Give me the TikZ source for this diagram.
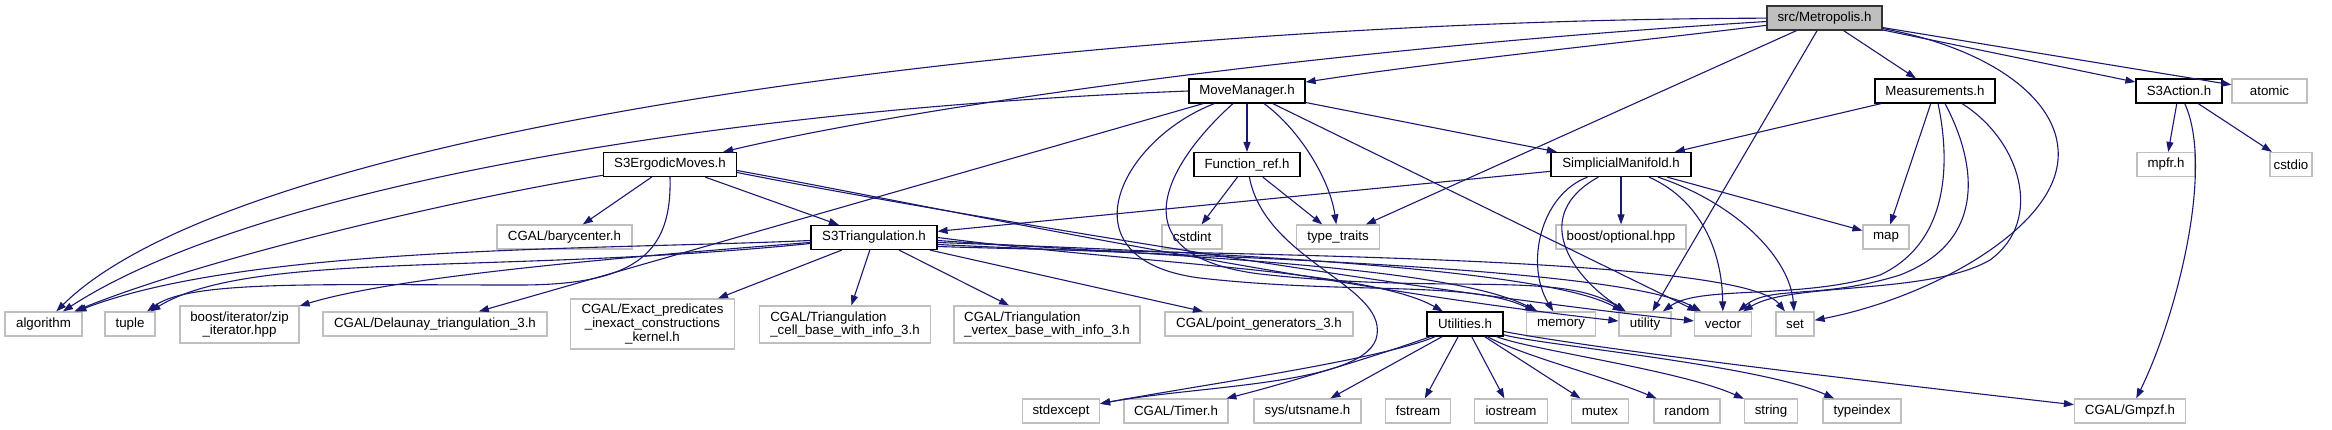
\documentclass[tikz,border=0pt]{standalone}
\usepackage{fontspec}
\setmainfont{Liberation Sans}
\usetikzlibrary{arrows.meta}
\definecolor{edgecol}{HTML}{191970}
\definecolor{extgray}{HTML}{BFBFBF}
\definecolor{mainfill}{HTML}{BFBFBF}
\newcommand{\gfont}{\fontsize{13.3}{13.6}\selectfont}
\tikzset{
  nbox/.style={rectangle, inner sep=0pt, minimum height=24pt, font=\gfont, line width=1.2pt, fill=white},
  intn/.style={nbox, draw=black},
  extn/.style={nbox, draw=extgray},
  mainn/.style={nbox, draw=black!80, fill=mainfill},
  dep/.style={draw=edgecol, line width=1.1pt, -{Triangle[length=10pt,width=7pt]}}
}
\begin{document}
\begin{tikzpicture}[x=1pt,y=-1pt]
\useasboundingbox[fill=white] (0,0) rectangle (2332,429);
% row 0
\node[mainn, minimum width=115pt] (M) at (1824.5,18) {src/Metropolis.h};
% row 1
\node[intn, minimum width=116pt] (MM) at (1247,91) {MoveManager.h};
\node[intn, minimum width=120pt] (Me) at (1935,91) {Measurements.h};
\node[intn, minimum width=86pt] (SA) at (2179,91) {S3Action.h};
\node[extn, minimum width=75pt] (atomic) at (2269.5,91) {atomic};
% row 2
\node[intn, minimum width=133pt] (SE) at (670,164.5) {S3ErgodicMoves.h};
\node[intn, minimum width=106pt] (FR) at (1247,164.5) {Function\_ref.h};
\node[intn, minimum width=140pt] (SM) at (1621,164.5) {SimplicialManifold.h};
\node[extn, minimum width=58pt] (mpfr) at (2166,164.5) {mpfr.h};
\node[extn, minimum width=42pt] (cstdio) at (2291,164.5) {cstdio};
% row 3
\node[extn, minimum width=135pt] (bary) at (564.5,237) {CGAL/barycenter.h};
\node[intn, minimum width=126pt] (ST) at (874,237.5) {S3Triangulation.h};
\node[extn, minimum width=60pt] (cstdint) at (1192,237) {cstdint};
\node[extn, minimum width=83pt] (tt) at (1338,237) {type\_traits};
\node[extn, minimum width=130pt] (opt) at (1621,237) {boost/optional.hpp};
\node[extn, minimum width=46pt] (map) at (1886,237) {map};
% row 4
\node[extn, minimum width=77pt] (alg) at (43.5,324) {algorithm};
\node[extn, minimum width=50pt] (tuple) at (130,324) {tuple};
\node[extn, minimum width=119pt, minimum height=37pt, align=center] (zip) at (239.5,324.5) {boost/iterator/zip\\\_iterator.hpp};
\node[extn, minimum width=224pt] (Del) at (435,324) {CGAL/Delaunay\_triangulation\_3.h};
\node[extn, minimum width=164pt, minimum height=50pt, align=center] (Exact) at (652.5,324) {CGAL/Exact\_predicates\\\_inexact\_constructions\\\_kernel.h};
\node[extn, minimum width=171pt, minimum height=37pt, align=left] (Cell) at (845,324.5) {CGAL/Triangulation\\\_cell\_base\_with\_info\_3.h};
\node[extn, minimum width=186pt, minimum height=37pt, align=left] (Vert) at (1047,324.5) {CGAL/Triangulation\\\_vertex\_base\_with\_info\_3.h};
\node[extn, minimum width=188pt] (pg) at (1259,324) {CGAL/point\_generators\_3.h};
\node[intn, minimum width=76pt] (UT) at (1465,324) {Utilities.h};
\node[extn, minimum width=69pt] (mem) at (1561,324) {memory};
\node[extn, minimum width=52pt] (util) at (1645,324) {utility};
\node[extn, minimum width=57pt] (vec) at (1723,324) {vector};
\node[extn, minimum width=38pt] (nset) at (1795,324) {set};
% row 5
\node[extn, minimum width=77pt] (sexc) at (1061,411) {stdexcept};
\node[extn, minimum width=104pt] (timer) at (1176,411) {CGAL/Timer.h};
\node[extn, minimum width=107pt] (uts) at (1307.5,411) {sys/utsname.h};
\node[extn, minimum width=65pt] (fst) at (1418,411) {fstream};
\node[extn, minimum width=73pt] (ios) at (1511,411) {iostream};
\node[extn, minimum width=57pt] (mtx) at (1600,411) {mutex};
\node[extn, minimum width=66pt] (rnd) at (1687,411) {random};
\node[extn, minimum width=53pt] (str) at (1771,411) {string};
\node[extn, minimum width=78pt] (tix) at (1862,411) {typeindex};
\node[extn, minimum width=111pt] (gmp) at (2130,411) {CGAL/Gmpzf.h};

% Metropolis edges
\draw[dep] (M) .. controls (1100,20) and (250,120) .. (alg);
\draw[dep] (M) .. controls (1300,50) and (900,110) .. (SE);
\draw[dep] (M) .. controls (1650,40) and (1450,60) .. (MM);
\draw[dep] (M) -- (Me);
\draw[dep] (M) -- (SA);
\draw[dep] (M) -- (atomic);
\draw[dep] (M) -- (tt);
\draw[dep] (M) -- (util);
\draw[dep] (M) .. controls (2000,50) and (2075,110) .. (2055,175) .. controls (2035,240) and (1920,300) .. (nset);
% Measurements edges
\draw[dep] (Me) -- (SM);
\draw[dep] (Me) -- (map);
\draw[dep] ([xshift=3pt]Me.south) .. controls (1948,150) and (1955,240) .. (1880,275) .. controls (1800,300) and (1700,285) .. (util);
\draw[dep] ([xshift=10pt]Me.south) .. controls (1975,160) and (1990,240) .. (1900,275) .. controls (1820,300) and (1770,285) .. (vec);
\draw[dep] ([xshift=27pt]Me.south) .. controls (2020,140) and (2045,220) .. (1990,260) .. controls (1930,295) and (1790,282) .. (vec);
% S3ErgodicMoves edges
\draw[dep] (SE) .. controls (450,200) and (200,260) .. (alg);
\draw[dep] (SE) -- (bary);
\draw[dep] (SE.south) .. controls (672,250) and (640,285) .. (520,285) .. controls (320,285) and (190,280) .. (tuple);
\draw[dep] (SE) -- (ST);
\draw[dep] ([yshift=-6pt]SE.east) .. controls (900,200) and (1300,285) .. (util);
\draw[dep] ([yshift=-8pt]SE.east) .. controls (900,205) and (1400,290) .. (vec);
% S3Triangulation edges
\draw[dep] ([yshift=-3pt]ST.west) .. controls (600,250) and (250,245) .. (alg);
\draw[dep] ([yshift=-6pt]ST.west) .. controls (500,275) and (250,250) .. (tuple);
\draw[dep] (ST) .. controls (650,255) and (400,275) .. (zip);
\draw[dep] (ST) -- (Exact);
\draw[dep] (ST) -- (Cell);
\draw[dep] (ST) -- (Vert);
\draw[dep] (ST) -- (pg);
\draw[dep] (ST.east) .. controls (1150,265) and (1370,270) .. (UT);
\draw[dep] ([yshift=-3pt]ST.east) .. controls (1150,255) and (1450,265) .. (mem);
\draw[dep] ([yshift=-5pt]ST.east) .. controls (1150,250) and (1540,265) .. (util);
\draw[dep] ([yshift=-7pt]ST.east) .. controls (1150,255) and (1620,265) .. (vec);
\draw[dep] ([yshift=-9pt]ST.east) .. controls (1200,255) and (1740,255) .. (nset);
% MoveManager edges
\draw[dep] (MM) -- (SM);
\draw[dep] (MM) -- (FR);
\draw[dep] (MM) .. controls (1300,130) and (1330,180) .. (tt);
\draw[dep] (MM) -- (vec);
\draw[dep] (MM.west) .. controls (700,110) and (250,190) .. (alg);
\draw[dep] (MM) -- (Del);
\draw[dep] (MM) .. controls (1120,140) and (1060,260) .. (1200,278) .. controls (1350,295) and (1470,280) .. (mem);
\draw[dep] (MM) .. controls (1170,160) and (1110,255) .. (1260,274) .. controls (1450,295) and (1560,270) .. (util);
% Function_ref edges
\draw[dep] (FR) -- (cstdint);
\draw[dep] (FR) -- (tt);
\draw[dep] (FR) .. controls (1265,260) and (1385,285) .. (1377,335) .. controls (1370,385) and (1200,385) .. (sexc);
% SimplicialManifold edges
\draw[dep] (SM) -- (ST);
\draw[dep] (SM) -- (opt);
\draw[dep] (SM) .. controls (1540,195) and (1525,265) .. (mem);
\draw[dep] (SM) .. controls (1530,215) and (1570,275) .. (util);
\draw[dep] (SM) .. controls (1700,200) and (1722,250) .. (vec);
\draw[dep] (SM) .. controls (1740,205) and (1790,260) .. (nset);
\draw[dep] (SM) -- (map);
% Utilities edges
\draw[dep] (UT) .. controls (1380,360) and (1200,385) .. (sexc);
\draw[dep] (UT) .. controls (1380,355) and (1280,385) .. (timer);
\draw[dep] (UT) -- (uts);
\draw[dep] (UT) -- (fst);
\draw[dep] (UT) -- (ios);
\draw[dep] (UT) -- (mtx);
\draw[dep] (UT) .. controls (1520,355) and (1600,375) .. (rnd);
\draw[dep] (UT) .. controls (1530,350) and (1680,370) .. (str);
\draw[dep] (UT) .. controls (1540,345) and (1760,365) .. (tix);
\draw[dep] (UT) .. controls (1600,350) and (1900,385) .. (gmp);
% S3Action edges
\draw[dep] (SA) -- (mpfr);
\draw[dep] (SA) -- (cstdio);
\draw[dep] (SA) .. controls (2215,170) and (2175,320) .. (gmp);
\end{tikzpicture}
\end{document}
